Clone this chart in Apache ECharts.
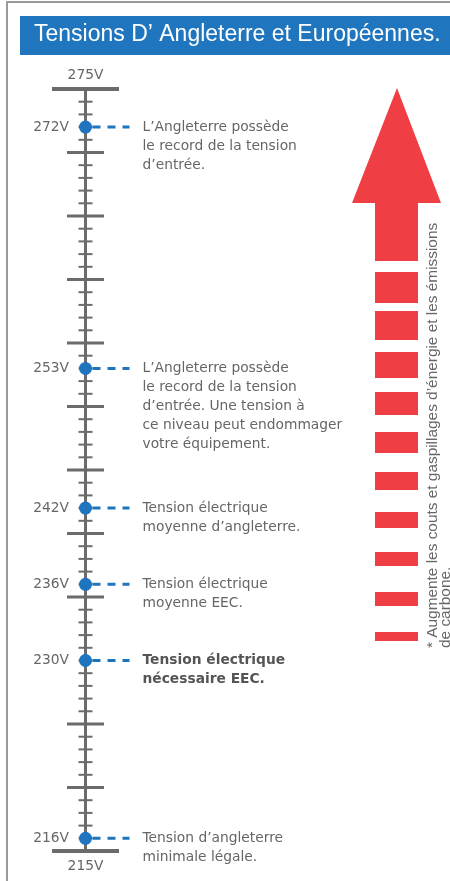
<!DOCTYPE html>
<html>
<head>
<meta charset="utf-8">
<script src="https://cdn.jsdelivr.net/npm/echarts@6/dist/echarts.min.js"></script>
<style>
  html, body { margin: 0; padding: 0; background: #fff; }
  #main { width: 450px; height: 881px; }
</style>
</head>
<body>
<div id="main"></div>
<script>
// valeurs repérées sur l'échelle
var voltages = [272, 253, 242, 236, 230, 216];
var voltageLabels = ['272V', '253V', '242V', '236V', '230V', '216V'];
var notes = [
  'L’Angleterre possède\nle record de la tension\nd’entrée.',
  'L’Angleterre possède\nle record de la tension\nd’entrée. Une tension à\nce niveau peut endommager\nvotre équipement.',
  'Tension électrique\nmoyenne d’angleterre.',
  'Tension électrique\nmoyenne EEC.',
  'Tension électrique\nnécessaire EEC.',
  'Tension d’angleterre\nminimale légale.'
];
var requiredVoltage = 230;

// bornes et graduations
var scaleMin = 215;
var scaleMax = 275;
var endLabels = ['215V', '275V'];
var majorTicks = [270, 265, 260, 255, 250, 245, 240, 235, 225, 220];
var tickValues = [];
for (var t = scaleMin; t <= scaleMax; t++) tickValues.push(t);

var FONT = '"DejaVu Sans", Verdana, sans-serif';
var TITLE_FONT = '"Liberation Sans", Arial, sans-serif';
var FS = 13.8;
var GREY = '#6b6b6b';
var TEXT = '#666';
var BLUE = '#1f74c0';
var RED = '#ef3e44';

var chart = echarts.init(document.getElementById('main'));

// cadre, bandeau titre, flèche rouge + tirets
var graphics = [
  { type: 'rect', shape: { x: 7, y: 2, width: 470, height: 900 },
    style: { fill: 'none', stroke: '#9a9a9a', lineWidth: 2 }, z: 0 },
  { type: 'rect', shape: { x: 20, y: 16, width: 440, height: 39 },
    style: { fill: '#1f75be' }, z: 1 },
  { type: 'text', x: 34, y: 35, z: 2,
    style: { text: 'Tensions D’ Angleterre et Européennes.', fill: '#fff',
      font: '23px ' + TITLE_FONT, textVerticalAlign: 'middle' } },
  { type: 'polygon', z: 1,
    shape: { points: [[397, 88], [441, 203], [418, 203], [418, 261], [375, 261], [375, 203], [352, 203]] },
    style: { fill: RED } }
];
var dashes = [[272, 31], [311, 29], [352, 26], [392, 23], [432, 21], [472, 18], [512, 16], [552, 14], [592, 14], [632, 9]];
dashes.forEach(function (d) {
  graphics.push({ type: 'rect', z: 1, shape: { x: 375, y: d[0], width: 43, height: d[1] }, style: { fill: RED } });
});
graphics.push({
  type: 'text', x: 439, y: 648, rotation: Math.PI / 2, z: 2,
  style: {
    text: '* Augmente les couts et gaspillages d’énergie et les émissions\nde carbone.',
    fill: TEXT, font: '15.4px ' + TITLE_FONT, lineHeight: 13,
    textAlign: 'left', textVerticalAlign: 'middle'
  }
});

var option = {
  animation: false,
  grid: { left: 52, top: 89, width: 67, height: 762 },
  xAxis: { type: 'value', min: -1, max: 1, show: false },
  yAxis: {
    type: 'value', min: scaleMin, max: scaleMax,
    axisLine: { show: true, onZero: true, lineStyle: { color: GREY, width: 3 } },
    axisTick: { show: false }, axisLabel: { show: false }, splitLine: { show: false }
  },
  graphic: graphics,
  series: [
    {
      type: 'custom',
      z: 2,
      data: tickValues.map(function (v) { return [0, v]; }),
      renderItem: function (params, api) {
        var v = api.value(1);
        var p = api.coord([0, v]);
        var isEnd = v === scaleMin || v === scaleMax;
        var isMajor = majorTicks.indexOf(v) >= 0;
        var half = isEnd ? 33.5 : (isMajor ? 18.5 : 7);
        var width = isEnd ? 4 : (isMajor ? 3 : 2);
        var children = [{
          type: 'line',
          shape: { x1: p[0] - half, y1: p[1], x2: p[0] + half, y2: p[1] },
          style: { stroke: GREY, lineWidth: width }
        }];
        if (isEnd) {
          children.push({
            type: 'text', x: p[0], y: v === scaleMax ? p[1] - 14 : p[1] + 15,
            style: { text: endLabels[v === scaleMax ? 1 : 0], fill: TEXT, font: FS + 'px ' + FONT,
              textAlign: 'center', textVerticalAlign: 'middle' }
          });
        }
        return { type: 'group', children: children };
      }
    },
    {
      type: 'custom',
      z: 3,
      data: voltages.map(function (v, i) { return [0, v, i]; }),
      renderItem: function (params, api) {
        var v = api.value(1);
        var i = api.value(2);
        var p = api.coord([0, v]);
        return {
          type: 'group',
          children: [
            { type: 'line', shape: { x1: p[0] + 7, y1: p[1], x2: p[0] + 44, y2: p[1] },
              style: { stroke: BLUE, lineWidth: 3, lineDash: [8, 7] } },
            { type: 'text', x: p[0] + 57, y: p[1] - 9.5,
              style: { text: notes[i], fill: v === requiredVoltage ? '#555' : TEXT, lineHeight: 19,
                font: (v === requiredVoltage ? 'bold ' : '') + FS + 'px ' + FONT,
                textVerticalAlign: 'top' } }
          ]
        };
      }
    },
    {
      type: 'scatter',
      z: 4,
      symbolSize: 13,
      itemStyle: { color: BLUE, opacity: 1 },
      data: voltages.map(function (v) { return [0, v]; }),
      label: {
        show: true, position: 'left', distance: 10,
        color: TEXT, fontSize: FS, fontFamily: FONT,
        formatter: function (p) { return voltageLabels[p.dataIndex]; }
      }
    }
  ]
};

chart.setOption(option);
</script>
</body>
</html>
